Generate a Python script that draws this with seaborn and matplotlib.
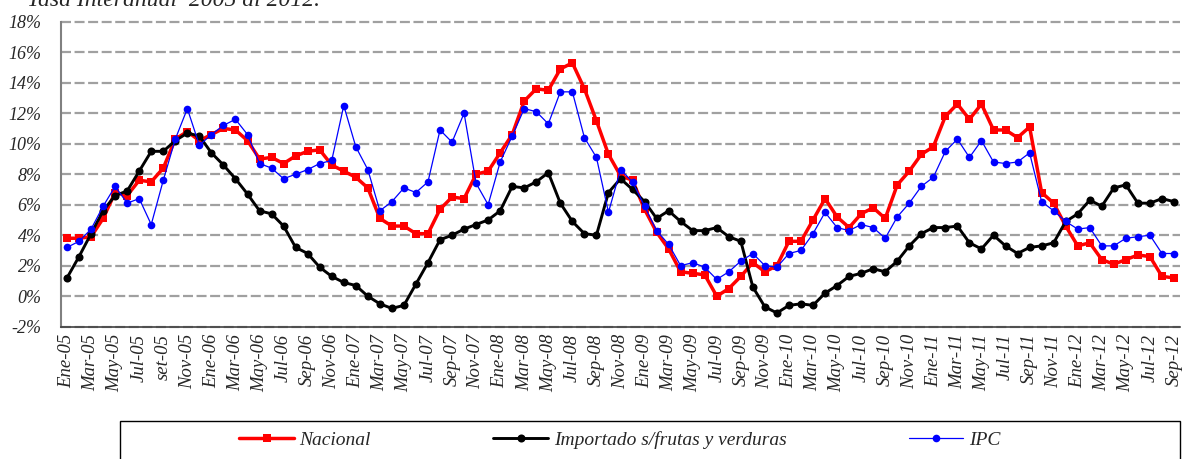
import matplotlib
matplotlib.use("Agg")
import matplotlib.pyplot as plt
import seaborn as sns
import numpy as np
from matplotlib.patches import Rectangle

# Tasa interanual, Ene-05 .. Sep-12 (93 meses)
nacional = [3.8, 3.8, 3.9, 5.1, 6.8, 6.6, 7.6, 7.5, 8.4, 10.3, 10.8, 10.2,
            10.6, 11.0, 10.9, 10.2, 9.0, 9.1, 8.7, 9.2, 9.5, 9.6, 8.6, 8.2,
            7.8, 7.1, 5.1, 4.6, 4.6, 4.1, 4.1, 5.7, 6.5, 6.4, 8.0, 8.2,
            9.4, 10.6, 12.8, 13.6, 13.5, 14.9, 15.3, 13.6, 11.5, 9.3, 7.9, 7.6,
            5.7, 4.2, 3.1, 1.6, 1.5, 1.4, 0.0, 0.5, 1.3, 2.2, 1.6, 2.0,
            3.6, 3.6, 5.0, 6.4, 5.2, 4.5, 5.4, 5.8, 5.1, 7.3, 8.2, 9.3,
            9.8, 11.8, 12.6, 11.6, 12.6, 10.9, 10.9, 10.4, 11.1, 6.8, 6.1, 4.6,
            3.3, 3.5, 2.4, 2.1, 2.4, 2.7, 2.6, 1.3, 1.2]
importado = [1.2, 2.6, 4.1, 5.6, 6.6, 6.9, 8.2, 9.5, 9.5, 10.2, 10.7, 10.5,
             9.4, 8.6, 7.7, 6.7, 5.6, 5.4, 4.6, 3.2, 2.8, 1.9, 1.3, 0.9,
             0.7, 0.0, -0.5, -0.8, -0.6, 0.8, 2.2, 3.7, 4.0, 4.4, 4.7, 5.0,
             5.6, 7.2, 7.1, 7.5, 8.1, 6.1, 4.9, 4.1, 4.0, 6.8, 7.7, 7.0,
             6.2, 5.1, 5.6, 4.9, 4.3, 4.3, 4.5, 3.9, 3.6, 0.6, -0.7, -1.1,
             -0.6, -0.5, -0.6, 0.2, 0.7, 1.3, 1.5, 1.8, 1.6, 2.3, 3.3, 4.1,
             4.5, 4.5, 4.6, 3.5, 3.1, 4.0, 3.3, 2.8, 3.2, 3.3, 3.5, 4.9,
             5.4, 6.3, 5.9, 7.1, 7.3, 6.1, 6.1, 6.4, 6.2]
ipc = [3.2, 3.6, 4.4, 5.9, 7.2, 6.1, 6.4, 4.7, 7.6, 10.3, 12.3, 9.9,
       10.6, 11.2, 11.6, 10.6, 8.7, 8.4, 7.7, 8.0, 8.3, 8.7, 8.9, 12.5,
       9.8, 8.3, 5.6, 6.2, 7.1, 6.8, 7.5, 10.9, 10.1, 12.0, 7.4, 6.0,
       8.8, 10.5, 12.3, 12.1, 11.3, 13.4, 13.4, 10.4, 9.1, 5.5, 8.3, 7.5,
       5.9, 4.3, 3.4, 2.0, 2.2, 1.9, 1.1, 1.6, 2.3, 2.8, 2.0, 1.9,
       2.8, 3.0, 4.1, 5.5, 4.5, 4.3, 4.7, 4.5, 3.8, 5.2, 6.1, 7.2,
       7.8, 9.5, 10.3, 9.1, 10.2, 8.8, 8.7, 8.8, 9.4, 6.2, 5.6, 4.9,
       4.4, 4.5, 3.3, 3.3, 3.8, 3.9, 4.0, 2.8, 2.8]

meses = ['Ene', 'Mar', 'May', 'Jul', 'Sep', 'Nov']
anios = ['05', '06', '07', '08', '09', '10', '11', '12']
etiquetas = [m + '-' + a for a in anios for m in meses][:47]
etiquetas[4] = 'set-05'

sns.set_style('white')
plt.rcParams['font.family'] = ['Liberation Serif', 'DejaVu Serif']
plt.rcParams['font.style'] = 'italic'

fig = plt.figure(figsize=(11.82, 4.59), dpi=100)
ax = fig.add_axes([61 / 1182, 1 - 326.7 / 459, 1119 / 1182, 305 / 459])

x = np.arange(len(nacional))
sns.lineplot(x=x, y=nacional, ax=ax, color='#FF0000', lw=2.5, marker='s',
             markersize=6, mew=0, label='Nacional', zorder=3)
sns.lineplot(x=x, y=importado, ax=ax, color='black', lw=2.1, marker='o',
             markersize=5.8, mew=0, label='Importado s/frutas y verduras', zorder=4)
sns.lineplot(x=x, y=ipc, ax=ax, color='#0000FF', lw=0.9, marker='o',
             markersize=5.5, mew=0, label='IPC', zorder=5)

ax.set_xlim(-0.5, len(nacional) - 0.5)
ax.set_ylim(-2, 18)
ax.set_yticks(np.arange(-2, 19, 2))
ax.set_yticklabels([f'{v}%' for v in range(-2, 19, 2)], fontsize=13)
ax.set_xticks(np.arange(0, len(nacional), 2))
ax.set_xticklabels(etiquetas, rotation=90, fontsize=13.5)
ax.set_xticks(np.arange(-0.5, len(nacional), 1), minor=True)
ax.tick_params(axis='x', which='major', length=0, pad=5)
ax.tick_params(axis='x', which='minor', length=5, color='#404040', direction='out')
ax.tick_params(axis='y', length=6, color='#808080', direction='out', pad=8)
ax.set_xlabel('')
ax.set_ylabel('')

ax.yaxis.grid(True, color='#A0A0A0', ls=(0, (4.5, 1.6)), lw=1.6)
ax.xaxis.grid(False)
for gl in ax.get_ygridlines():
    gl.set_clip_on(False)
ax.set_axisbelow(True)

for s in ['top', 'right']:
    ax.spines[s].set_visible(False)
ax.spines['left'].set_color('#808080')
ax.spines['left'].set_linewidth(1.5)
ax.spines['bottom'].set_color('#404040')
ax.spines['bottom'].set_linewidth(1.2)

fig.text(27 / 1182, 1 - 6 / 459, 'Tasa Interanual  2005 al 2012.',
         fontsize=17, va='baseline', ha='left')

handles, labels = ax.get_legend_handles_labels()
ax.get_legend().remove()
fig.legend(handles, labels, loc='center', bbox_to_anchor=(620 / 1182, 1 - 440 / 459),
           ncol=3, frameon=False, fontsize=14, handlelength=2.8,
           columnspacing=6.3, handletextpad=0.3)
fig.add_artist(Rectangle((120 / 1182, -0.05), 1060 / 1182, 0.05 + 1 - 421 / 459,
                         transform=fig.transFigure, fill=False, ec='black', lw=1))

fig.savefig('out.png', dpi=100)
